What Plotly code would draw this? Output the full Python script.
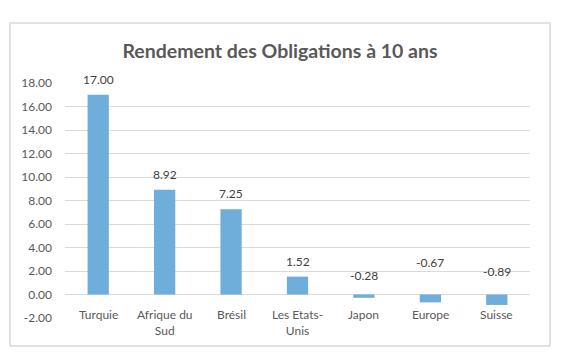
import plotly.graph_objects as go

categories = ["Turquie", "Afrique du<br>Sud", "Brésil", "Les Etats-<br>Unis", "Japon", "Europe", "Suisse"]
values = [17.00, 8.92, 7.25, 1.52, -0.28, -0.67, -0.89]
label_text = ["17.00", "8.92", "7.25", "1.52", "-0.28", "-0.67", "-0.89"]
label_shift = [6, 6, 6, 6, 10, 23, 14]
y_ticks = [-2, 0, 2, 4, 6, 8, 10, 12, 14, 16, 18]
y_tick_labels = ["-2.00", "0.00", "2.00", "4.00", "6.00", "8.00", "10.00", "12.00", "14.00", "16.00", "18.00"]

FONT = "Lato"
GRAY = "#595959"
OFF = 8  # page body margin

W, H = 574 - OFF, 363 - OFF
L, R, T, B = 65 - OFF, 44, 83 - OFF, 45

fig = go.Figure()
fig.add_trace(go.Bar(x=categories, y=values, marker=dict(color="#6FADDB", line=dict(width=0)),
                     hoverinfo="skip"))

annotations = []
for c, v, t, s in zip(categories, values, label_text, label_shift):
    annotations.append(dict(x=c, y=max(v, 0), text=t, xref="x", yref="y", showarrow=False,
                            yanchor="bottom", yshift=s, font=dict(family=FONT, size=12, color="#404040")))
    annotations.append(dict(x=c, y=0, text=c, xref="x", yref="y", showarrow=False,
                            yanchor="top", yshift=-10, font=dict(family=FONT, size=12, color=GRAY)))

pw = W - L - R
ph = H - T - B

fig.update_layout(
    width=W, height=H,
    margin=dict(l=L, r=R, t=T, b=B),
    paper_bgcolor="white", plot_bgcolor="white",
    showlegend=False,
    bargap=0.68,
    title=dict(text="<b>Rendement des Obligations à 10 ans</b>", x=(280 - OFF) / W, xanchor="center",
               y=1 - (51 - OFF) / H, yanchor="middle",
               font=dict(family=FONT, size=19.5, color=GRAY)),
    xaxis=dict(showticklabels=False, showgrid=False, zeroline=False, showline=False, ticks=""),
    yaxis=dict(range=[-2, 18], tickvals=y_ticks, ticktext=y_tick_labels,
               showgrid=True, gridcolor="#D9D9D9", gridwidth=1,
               zeroline=True, zerolinecolor="#D9D9D9", zerolinewidth=1,
               showline=False, ticks="", ticklabelstandoff=12,
               tickfont=dict(family=FONT, size=12, color=GRAY)),
    annotations=annotations,
    shapes=[dict(type="rect", xref="paper", yref="paper",
                 x0=(10 - 65) / pw, x1=(550 - 65) / pw,
                 y0=(318 - 346) / ph, y1=(318 - 23) / ph,
                 line=dict(color="#D9D9D9", width=1.5), fillcolor="rgba(0,0,0,0)", layer="below")],
)

fig.write_html("out.html")
